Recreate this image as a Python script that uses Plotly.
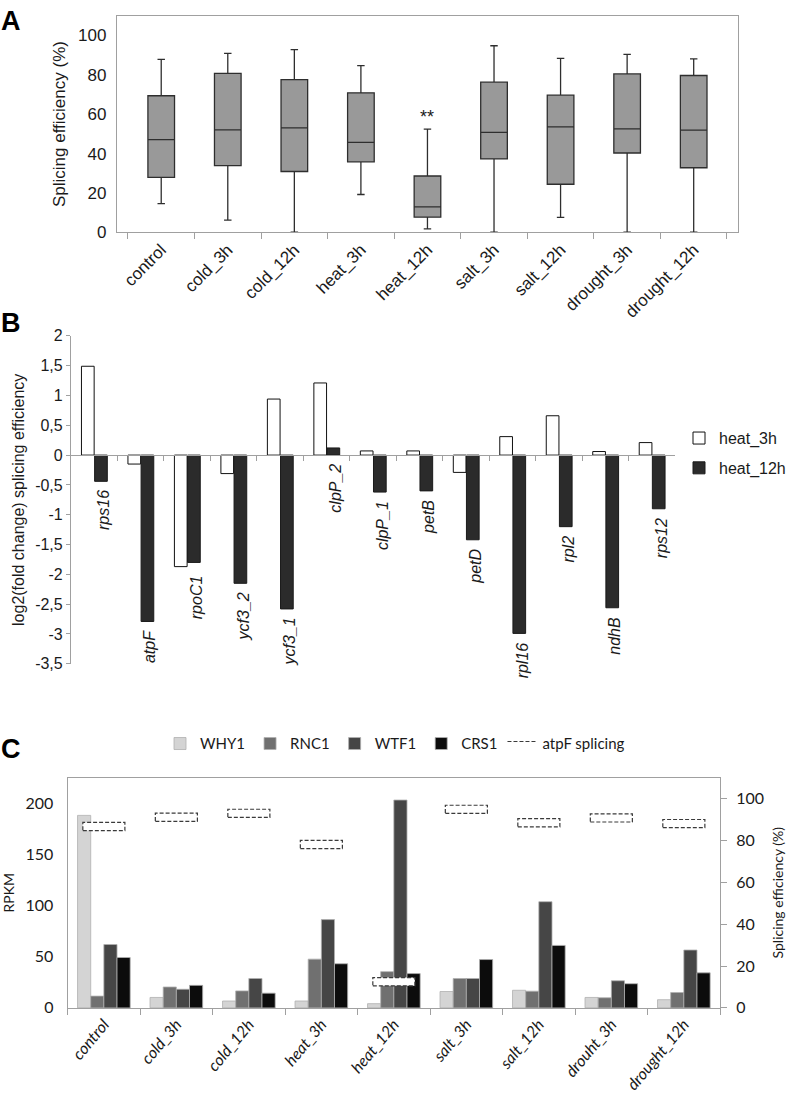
import plotly.graph_objects as go

# ---------------- data ----------------
# Panel A: splicing efficiency box plot
cats_a = ['control', 'cold_3h', 'cold_12h', 'heat_3h', 'heat_12h',
          'salt_3h', 'salt_12h', 'drought_3h', 'drought_12h']
lower_a = [14.6, 6.2, 0.0, 19.2, 1.7, 0.0, 7.6, 0.0, 0.0]
q1_a = [27.9, 33.9, 30.9, 35.8, 7.7, 37.3, 24.4, 40.3, 32.8]
median_a = [47.1, 52.1, 53.1, 45.7, 12.9, 50.8, 53.6, 52.6, 51.9]
q3_a = [69.4, 80.8, 77.6, 70.9, 28.6, 76.3, 69.7, 80.5, 79.7]
upper_a = [87.9, 90.9, 92.8, 84.7, 52.4, 94.8, 88.4, 90.4, 88.1]
signif_cat = 'heat_12h'
signif_text = '**'

# Panel B: log2 fold change
genes_b = ['rps16', 'atpF', 'rpoC1', 'ycf3_2', 'ycf3_1', 'clpP_2', 'clpP_1',
           'petB', 'petD', 'rpl16', 'rpl2', 'ndhB', 'rps12']
heat_3h = [1.49, -0.15, -1.87, -0.31, 0.94, 1.21, 0.07, 0.07, -0.29, 0.31, 0.66, 0.06, 0.21]
heat_12h = [-0.44, -2.79, -1.80, -2.15, -2.58, 0.12, -0.62, -0.60, -1.42, -2.99, -1.20, -2.56, -0.90]
b_tickvals = [2, 1.5, 1, 0.5, 0, -0.5, -1, -1.5, -2, -2.5, -3, -3.5]
b_ticktext = ['2', '1,5', '1', '0,5', '0', '-0,5', '-1', '-1,5', '-2', '-2,5', '-3', '-3,5']

# Panel C: RPKM and atpF splicing
cats_c = ['control', 'cold_3h', 'cold_12h', 'heat_3h', 'heat_12h',
          'salt_3h', 'salt_12h', 'drouht_3h', 'drought_12h']
why1 = [188, 10.2, 6.7, 6.7, 4.1, 16.0, 17.2, 10.2, 8.0]
rnc1 = [11.5, 20.4, 16.6, 47.6, 35.4, 28.7, 16.3, 9.9, 15.0]
wtf1 = [61.9, 18.2, 28.7, 86.2, 203.0, 28.7, 103.7, 26.5, 56.5]
crs1 = [49.2, 22.0, 14.4, 43.1, 33.5, 47.2, 61.0, 23.6, 34.2]
atpf_splicing = [86.6, 91.0, 92.9, 78.0, 12.5, 94.8, 88.4, 90.7, 88.0]

# ---------------- layout helpers ----------------
W, H = 791, 1101
def fx(px):
    return px / W
def fy(py):
    return 1 - py / H

ARIAL = 'Liberation Sans, Arial, sans-serif'
CAL = 'Lato, Carlito, sans-serif'
TXT = '#1a1a1a'
GRID = '#a0a0a0'

fig = go.Figure()

# ---------------- Panel A ----------------
fig.add_trace(go.Box(
    x=cats_a, q1=q1_a, median=median_a, q3=q3_a,
    lowerfence=lower_a, upperfence=upper_a,
    fillcolor='#999999', line=dict(color='#2e2e2e', width=1.3),
    width=0.4, whiskerwidth=0.28, boxpoints=False, showlegend=False,
    hoverinfo='skip', xaxis='x', yaxis='y'))

# ---------------- Panel B ----------------
BW = 0.273
fig.add_trace(go.Bar(
    x=genes_b, y=heat_3h, name='heat_3h', width=BW, offset=-BW,
    marker=dict(color='white', line=dict(color='#111111', width=1)),
    xaxis='x2', yaxis='y2', legend='legend', legendgroup='g1'))
fig.add_trace(go.Bar(
    x=genes_b, y=heat_12h, name='heat_12h', width=BW, offset=0.01,
    marker=dict(color='#2b2b2b', line=dict(color='#1a1a1a', width=1)),
    xaxis='x2', yaxis='y2', legend='legend', legendgroup='g2'))

# ---------------- Panel C ----------------
CW = 0.1815
series_c = [('WHY1', why1, '#d4d4d4'), ('RNC1', rnc1, '#707070'),
            ('WTF1', wtf1, '#464646'), ('CRS1', crs1, '#0c0c0c')]
xc = list(range(len(cats_c)))
for k, (name, vals, col) in enumerate(series_c):
    fig.add_trace(go.Bar(
        x=xc, y=vals, name=name, width=CW, offset=-2 * CW + k * CW,
        marker=dict(color=col, line=dict(color='#b0b0b0', width=0.8)),
        xaxis='x3', yaxis='y3', legend='legend2'))

# dashed rectangles marking atpF splicing (right axis)
RECT_W, RECT_H = 0.58, 3.9
rx, ry = [], []
for i, v in enumerate(atpf_splicing):
    rx += [i - RECT_W / 2, i + RECT_W / 2, i + RECT_W / 2, i - RECT_W / 2, i - RECT_W / 2, None]
    ry += [v - RECT_H / 2, v - RECT_H / 2, v + RECT_H / 2, v + RECT_H / 2, v - RECT_H / 2, None]
fig.add_trace(go.Scatter(
    x=rx, y=ry, mode='lines', name='atpF splicing', fill='toself',
    fillcolor='white', line=dict(color='#3a3a3a', width=1.2, dash='4px,2px'),
    xaxis='x3', yaxis='y4', legend='legend2', hoverinfo='skip'))

# ---------------- axes ----------------
a_dom_y = [fy(228), fy(8)]
b_dom_y = [fy(666.7), fy(333.3)]
c_dom_y = [fy(1016.5), fy(782.3)]
b_range = [-3.5, 2]
b_zero_pos = b_dom_y[0] + (0 - b_range[0]) / (b_range[1] - b_range[0]) * (b_dom_y[1] - b_dom_y[0])

fig.update_layout(
    width=W, height=H, margin=dict(l=0, r=0, t=0, b=0),
    paper_bgcolor='white', plot_bgcolor='white',
    barmode='overlay',
    font=dict(family=ARIAL, color=TXT),
    xaxis=dict(domain=[fx(117), fx(739)], anchor='y', showline=True, mirror=True,
               linecolor=GRID, linewidth=1, ticks='outside', tickson='boundaries',
               ticklen=6, tickcolor=GRID, tickangle=-45,
               tickfont=dict(family=ARIAL, size=17, color=TXT), showgrid=False),
    yaxis=dict(domain=a_dom_y, anchor='x', range=[0, 110], tickvals=[0, 20, 40, 60, 80, 100],
               showline=True, mirror=True, linecolor=GRID, showgrid=False, zeroline=False,
               ticks='', ticklabelstandoff=6,
               tickfont=dict(family=ARIAL, size=17, color=TXT),
               title=dict(text='Splicing efficiency (%)', font=dict(family=ARIAL, size=17, color=TXT), standoff=8)),
    xaxis2=dict(domain=[fx(71), fx(676)], anchor='free', position=b_zero_pos,
                range=[-0.5, len(genes_b) - 0.5], showline=True, linecolor=GRID,
                ticks='outside', tickson='boundaries', ticklen=5, tickcolor=GRID,
                showticklabels=False, showgrid=False, zeroline=False),
    yaxis2=dict(domain=b_dom_y, anchor='x2', range=b_range, tickvals=b_tickvals, ticktext=b_ticktext,
                showline=True, linecolor=GRID, ticks='outside', ticklen=4, tickcolor=GRID,
                showgrid=False, zeroline=False,
                tickfont=dict(family=ARIAL, size=16, color=TXT),
                title=dict(text='log2(fold change) splicing efficiency',
                           font=dict(family=ARIAL, size=16, color=TXT), standoff=6)),
    xaxis3=dict(domain=[fx(67.7), fx(721)], anchor='y3', range=[-0.5, len(cats_c) - 0.5],
                tickvals=xc, ticktext=['<i>%s</i>' % c for c in cats_c], tickangle=-50,
                ticks='', showline=True, mirror=True, linecolor=GRID, showgrid=False, zeroline=False,
                minor=dict(tick0=-0.5, dtick=1, ticks='outside', ticklen=6, tickcolor=GRID, showgrid=False),
                tickfont=dict(family=CAL, size=16, color=TXT)),
    yaxis3=dict(domain=c_dom_y, anchor='x3', range=[0, 225], tickvals=[0, 50, 100, 150, 200],
                showline=True, linecolor=GRID, ticks='', showgrid=False, zeroline=False,
                ticklabelstandoff=10, tickfont=dict(family=CAL, size=16, color=TXT),
                title=dict(text='RPKM', font=dict(family=CAL, size=14, color=TXT), standoff=14)),
    yaxis4=dict(overlaying='y3', side='right', anchor='x3', range=[0, 110],
                tickvals=[0, 20, 40, 60, 80, 100], showline=True, linecolor=GRID,
                ticks='outside', ticklen=6, tickcolor=GRID, showgrid=False, zeroline=False,
                ticklabelstandoff=6, tickfont=dict(family=CAL, size=16, color=TXT),
                title=dict(text='Splicing efficiency (%)', font=dict(family=CAL, size=14, color=TXT), standoff=10)),
    legend=dict(x=fx(680), y=fy(420), xanchor='left', yanchor='top',
                font=dict(family=ARIAL, size=16, color=TXT), bgcolor='rgba(0,0,0,0)',
                tracegroupgap=6, itemwidth=30, itemclick=False),
    legend2=dict(orientation='h', x=0.5, y=fy(748), xanchor='center', yanchor='middle',
                 font=dict(family=CAL, size=15, color=TXT), bgcolor='rgba(0,0,0,0)',
                 itemwidth=30, traceorder='normal'),
)

annotations = []
# significance marker in panel A
si = cats_a.index(signif_cat)
annotations.append(dict(x=signif_cat, y=upper_a[si], xref='x', yref='y', text=signif_text,
                        showarrow=False, yanchor='bottom', yshift=0,
                        font=dict(family=ARIAL, size=18, color=TXT)))
# italic gene labels in panel B, placed under the lowest bar of each gene
for i, g in enumerate(genes_b):
    ymin = min(heat_3h[i], heat_12h[i], 0)
    annotations.append(dict(x=g, y=ymin, xref='x2', yref='y2', text='<i>%s</i>' % g,
                            textangle=-90, showarrow=False, xanchor='center', yanchor='top',
                            xshift=9.5, yshift=-7, font=dict(family=ARIAL, size=16, color=TXT)))
# panel letters
for letter, py in [('A', 13), ('B', 320), ('C', 753)]:
    annotations.append(dict(x=fx(11), y=fy(py), xref='paper', yref='paper', text='<b>%s</b>' % letter,
                            showarrow=False, xanchor='center', yanchor='middle',
                            font=dict(family=ARIAL, size=27, color='#000')))
fig.update_layout(annotations=annotations)

fig.write_html("out.html", config={'displayModeBar': False},
               post_script="document.body.style.margin='0';")
